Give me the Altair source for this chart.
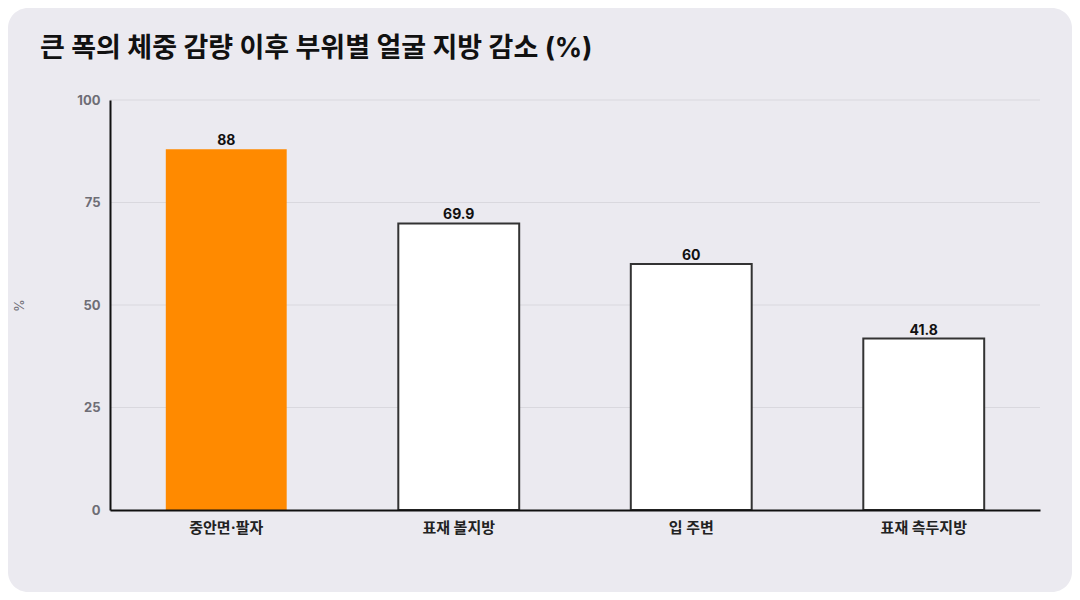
import altair as alt
import pandas as pd

title_text = "큰 폭의 체중 감량 이후 부위별 얼굴 지방 감소 (%)"
categories = ["중안면·팔자", "표재 볼지방", "입 주변", "표재 측두지방"]
values = [88, 69.9, 60, 41.8]
highlight = [True, False, False, False]
y_ticks = [0, 25, 50, 75, 100]

df = pd.DataFrame({"part": categories, "value": values, "hi": highlight})
df["label"] = [f"{v:g}" for v in values]
grid_df = pd.DataFrame({"tick": y_ticks[1:]})

FONT = "Inter, 'Noto Sans CJK KR', sans-serif"
BG = "#ebeaf0"

bg = alt.Chart(pd.DataFrame({"a": [0]})).mark_rect(
    fill=BG, cornerRadius=20
).encode(
    x=alt.value(-102), x2=alt.value(962), y=alt.value(-92), y2=alt.value(492)
)

title = alt.Chart(pd.DataFrame({"t": [title_text]})).mark_text(
    align="left", baseline="middle", font=FONT, fontSize=27, fontWeight="bold",
    color="#111111"
).encode(x=alt.value(-70), y=alt.value(-51), text="t:N")

grid = alt.Chart(grid_df).mark_rule(color="#d9d8de", strokeWidth=1).encode(
    y=alt.Y("tick:Q", scale=alt.Scale(domain=[0, 100])),
)

x_enc = alt.X("part:N", sort=categories, title=None,
              scale=alt.Scale(paddingInner=0.48, paddingOuter=0.24),
              axis=alt.Axis(labelAngle=0, labelFont=FONT, labelFontSize=15,
                            labelFontWeight="bold", labelColor="#222222",
                            labelPadding=10, ticks=False, domainColor="#111111",
                            domainWidth=2, zindex=2))
y_enc = alt.Y("value:Q", title="%",
              scale=alt.Scale(domain=[0, 100]),
              axis=alt.Axis(values=y_ticks, labelFont=FONT, labelFontSize=13,
                            labelFontWeight="bold", labelColor="#6e6d75",
                            labelPadding=10, ticks=False, domainColor="#111111",
                            domainWidth=2, grid=False, zindex=2,
                            titleFont=FONT, titleFontSize=13, titleFontWeight="normal",
                            titleColor="#6e6d75", titleX=-84, titleY=205))

bars = alt.Chart(df).mark_bar(stroke="#333333", strokeWidth=2).encode(
    x=x_enc,
    y=y_enc,
    fill=alt.condition("datum.hi", alt.value("#ff8a00"), alt.value("#ffffff")),
    strokeOpacity=alt.condition("datum.hi", alt.value(0), alt.value(1)),
)

labels = alt.Chart(df).mark_text(
    baseline="bottom", dy=-1, font=FONT, fontSize=14, fontWeight="bold", color="#111111"
).encode(
    x=alt.X("part:N", sort=categories),
    y=alt.Y("value:Q"),
    text="label:N",
)

chart = alt.layer(bg, title, grid, bars, labels).properties(
    width=930, height=410,
    padding={"left": 102, "top": 92, "right": 32, "bottom": 82},
    autosize=alt.AutoSizeParams(type="none"),
    background="#ffffff",
).configure_view(stroke=None)

chart.save("out.html", embed_options={"renderer": "svg", "actions": False})
